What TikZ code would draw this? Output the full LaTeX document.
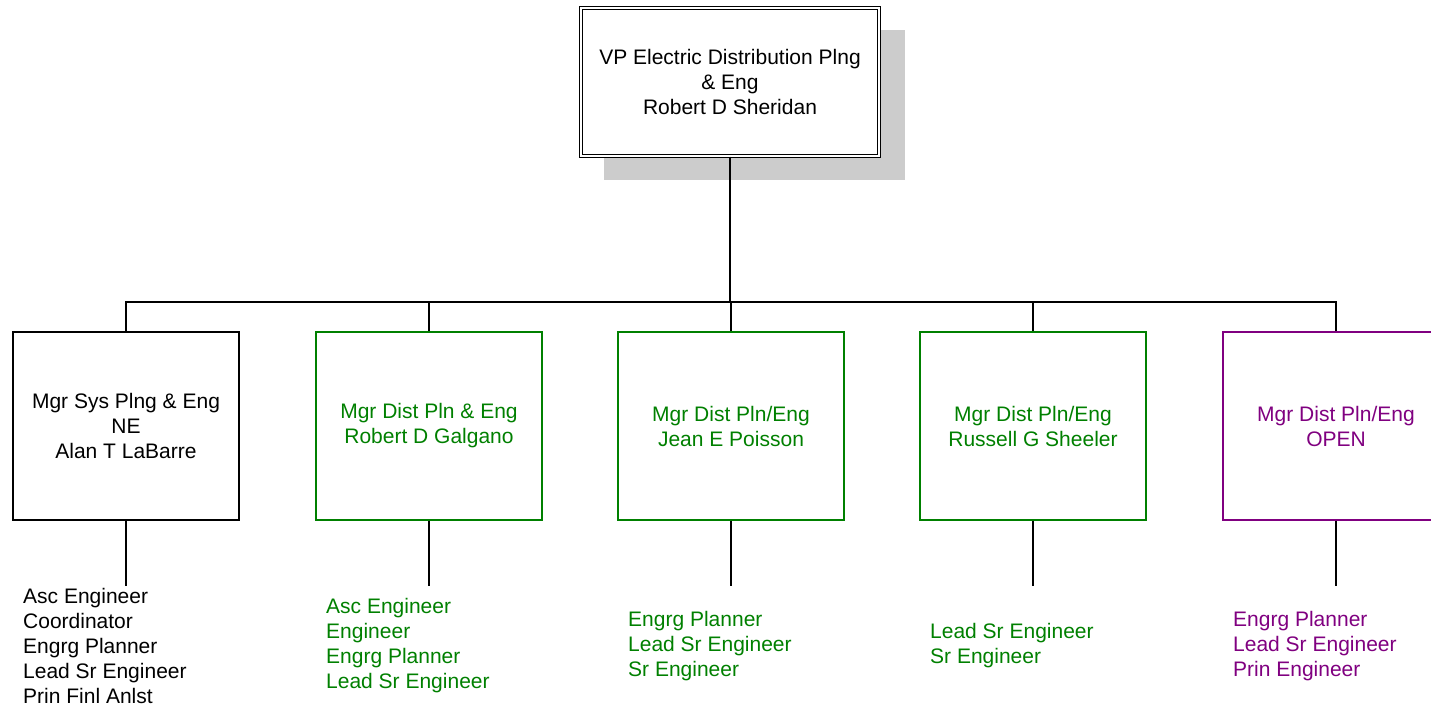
\documentclass[tikz,border=0pt]{standalone}
\usepackage{fontspec}
\setmainfont{Liberation Sans}
\usepackage{tikz}
\usetikzlibrary{positioning,shadows,calc}

\definecolor{mgrgreen}{RGB}{0,128,0}
\definecolor{mgrpurple}{RGB}{128,0,128}

\begin{document}
\begin{tikzpicture}[x=1pt,y=-1pt,
  every node/.style={font=\fontsize{21}{25}\selectfont},
  vpbox/.style={draw,double,double distance=2.6pt,line width=1.1pt,minimum width=298pt,minimum height=148pt,align=center,fill=white,
    drop shadow={shadow xshift=24pt,shadow yshift=-23pt,shadow scale=1.01,fill=black!20,opacity=1}},
  mgrbox/.style={draw,line width=1.2pt,minimum width=226pt,minimum height=188pt,align=center,fill=white},
  staff/.style={anchor=west,align=left,inner sep=0pt},
  wire/.style={line width=1.2pt}]
  \useasboundingbox (0,0) rectangle (1431,711);
  \node [vpbox] (vp) at (730,82) {VP Electric Distribution Plng\\ \& Eng\\ Robert D Sheridan};
  \node [mgrbox] (m1) at (126,426) {Mgr Sys Plng \& Eng\\ NE\\ Alan T LaBarre};
  \node [mgrbox,draw=mgrgreen,text=mgrgreen] (m2) at (429,426) {Mgr Dist Pln \& Eng\\ Robert D Galgano};
  \node [mgrbox,draw=mgrgreen,text=mgrgreen] (m3) at (731,426) {Mgr Dist Pln/Eng\\ Jean E Poisson};
  \node [mgrbox,draw=mgrgreen,text=mgrgreen] (m4) at (1033,426) {Mgr Dist Pln/Eng\\ Russell G Sheeler};
  \node [mgrbox,draw=mgrpurple,text=mgrpurple] (m5) at (1336,426) {Mgr Dist Pln/Eng\\ OPEN};
  \coordinate (bus) at (730,302);
  \draw [wire] (vp.south) -- (bus);
  \foreach \m in {m1,m2,m3,m4,m5} {
    \draw [wire] (bus) -| (\m.north);
    \coordinate (\m end) at ($(\m.south)+(0,65)$);
    \draw [wire] (\m.south) -- (\m end);
  }
  \node [staff] (s1) at (23,646) {Asc Engineer\\ Coordinator\\ Engrg Planner\\ Lead Sr Engineer\\ Prin Finl Anlst};
  \node [staff,text=mgrgreen] (s2) at (326,646) {Asc Engineer\\ Engineer\\ Engrg Planner\\ Lead Sr Engineer};
  \node [staff,text=mgrgreen] (s3) at (628,646) {Engrg Planner\\ Lead Sr Engineer\\ Sr Engineer};
  \node [staff,text=mgrgreen] (s4) at (930,646) {Lead Sr Engineer\\ Sr Engineer};
  \node [staff,text=mgrpurple] (s5) at (1233,646) {Engrg Planner\\ Lead Sr Engineer\\ Prin Engineer};
\end{tikzpicture}
\end{document}
